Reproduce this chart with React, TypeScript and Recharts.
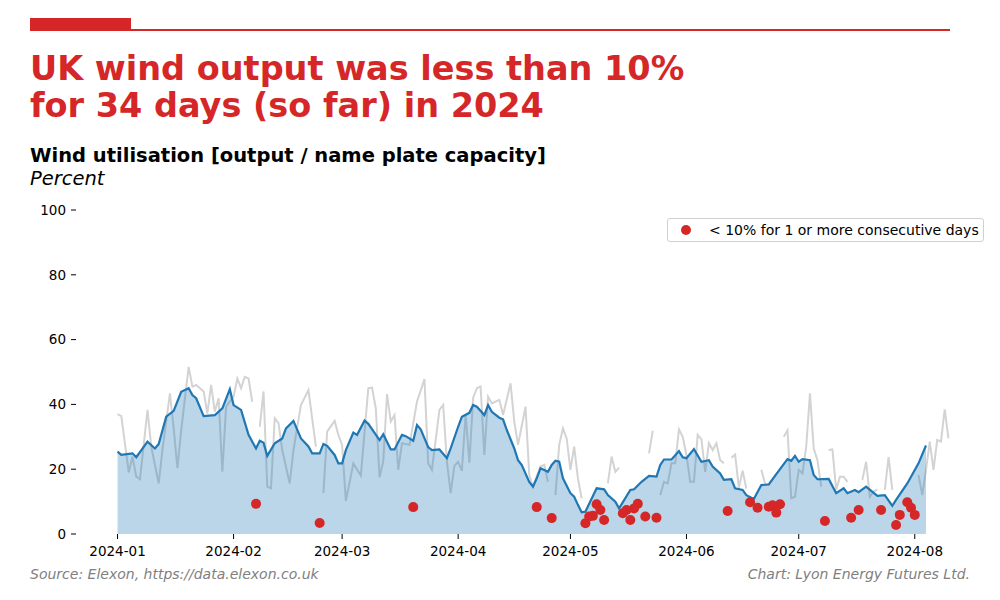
import React from "react";
import { ComposedChart, Area, Scatter, XAxis, YAxis, Legend } from "recharts";

const RED = "#d62728";
const BLUE = "#1f77b4";
const FONT = "'DejaVu Sans', sans-serif";

const monthTicks = [0, 31, 60, 91, 121, 152, 182, 213];
const monthLabels = ["2024-01", "2024-02", "2024-03", "2024-04", "2024-05", "2024-06", "2024-07", "2024-08"];
const percentTicks = [0, 20, 40, 60, 80, 100];

// [day since 2024-01-01, utilisation %]; null = gap in the daily series
const dailyUtilisation: [number, number | null][] = [
  [0, 37], [1, 36.4], [3, 19], [4, 23.9], [5, 17.7], [6, 16.9], [8, 38.3], [9, 27], [11, 15.6], [12, 26],
  [14, 43.4], [15, 32.6], [16, 20.3], [17, 32], [19, 51.6], [20, 45.5], [21, 46], [23, 44], [24, 37.2],
  [25, 46], [26, 37.8], [27, 41.9], [28, 19.2], [29, 39.3], [31, 42.4], [32, 48], [33, 45], [34, 48.5],
  [35, 48], [36, 40.8], [37, null],
  [38, 33.1], [39, 44], [40, 14.6], [41, 14.1], [42, 35.7], [43, 34.2], [44, 25.9], [46, 15.6], [47, 25.9],
  [49, 39.8], [51, 44.4], [53, 27], [54, null],
  [55, 12.6], [56, 31.6], [58, 34.9], [59, 30.6], [60, 27.5], [61, 10.2], [63, 21.8], [65, 18], [67, 45],
  [68, 45.2], [69, 38.8], [70, 17.5], [71, 22.5], [72, 43.2], [73, 34.7], [74, 36.7], [75, 19.8], [76, 28],
  [78, 27.5], [80, 40.8], [82, 47.8], [83, 21.8], [84, 19.8], [86, 38.3], [87, 39.8], [88, 22.3], [89, 12.6],
  [90, 21], [91, 22.3], [92, 19.5], [93, 37], [94, 22], [95, 42], [96, 45], [97, 45.5], [98, 24.4],
  [99, 42.4], [100, 40.3], [102, 41.4], [103, 36.7], [105, 46.5], [106, 34.7], [107, 27.5], [109, 39.3],
  [110, 18.2], [111, 14.6], [113, 20.8], [114, 21.3], [115, 16.1], [116, null],
  [117, 12], [118, 27.5], [119, 32.6], [120, 29.4], [121, 19.8], [122, 27], [123, 17.2], [124, 11], [125, null],
  [131, 15.6], [132, 23.9], [133, 19.2], [134, 20.5], [135, null],
  [142, 24.9], [143, 31.9], [144, null],
  [145, 12], [146, 16.1], [147, 15.6], [148, 21.8], [149, 21.8], [150, 32.3], [151, 30], [152, 24.4],
  [153, 16.1], [154, 16.1], [155, 30.6], [156, 29.2], [157, 19.2], [158, 28], [159, 25.9], [160, 28],
  [161, 22.8], [162, 21.8], [163, null],
  [164, 23.5], [165, 24.5], [166, 14.3], [167, 19.5], [168, 14], [169, null],
  [172, 19.8], [173, 15.6], [174, null],
  [178, 30], [179, 32], [180, 11], [181, 11.5], [182, 19.8], [183, 18.7], [184, 27], [185, 43.4],
  [186, 26.4], [187, 22.8], [188, 14.6], [189, null],
  [190, 25.9], [191, 26.1], [192, 13.6], [193, 17.7], [194, 17.7], [195, 16.1], [196, null],
  [199, 16.7], [200, 22.3], [201, 11.5], [202, 13.1], [203, 13.8], [204, null],
  [205, 13.6], [206, 23.7], [207, 13.6], [208, null],
  [214, 18.2], [215, 12], [216, 19.8], [217, 28.5], [218, 19.8], [219, 29], [220, 28.5], [221, 38.5], [222, 29.5],
];

// smoothed utilisation (blue line + fill)
const rollingAverage: [number, number][] = [
  [0, 25.4], [1, 24.4], [4, 24.9], [5, 23.7], [8, 28.5], [10, 26.4], [11, 27.8], [13, 36.2], [15, 38],
  [17, 43.9], [19, 45], [20, 42.9], [21, 41.9], [23, 36.4], [26, 36.7], [28, 38.8], [30, 44.7], [31, 39.8],
  [33, 38.3], [35, 30.6], [37, 26.4], [38, 28.8], [39, 28.2], [40, 24.1], [42, 28], [44, 29.5], [45, 32.6],
  [47, 34.9], [49, 29.5], [51, 27], [52, 24.9], [54, 24.9], [55, 27.8], [56, 27.2], [58, 24.4], [59, 21.8],
  [60, 21.8], [61, 25.9], [63, 31.3], [64, 30.6], [66, 35], [67, 34], [70, 29], [71, 30.8], [73, 26.1],
  [74, 26.1], [76, 30.6], [77, 30.2], [79, 28.8], [80, 33.6], [81, 32.3], [83, 26.8], [84, 25.9], [86, 26.1],
  [88, 23.4], [89, 26.4], [91, 33.1], [92, 36.2], [94, 37.4], [95, 39.8], [96, 39.3], [98, 36.7], [99, 39.8],
  [100, 37.7], [102, 35.9], [103, 35.4], [104, 32.1], [106, 26.4], [107, 22.8], [108, 21.3], [110, 16.1],
  [111, 14.6], [112, 17.2], [113, 20.3], [115, 19.2], [116, 21.3], [117, 22.6], [118, 22.3], [119, 17.2],
  [121, 12.6], [122, 11.5], [123, 9], [124, 6.7], [125, 6.9], [128, 14.1], [130, 13.8], [131, 12], [133, 10],
  [134, 7.9], [137, 13.6], [138, 13.8], [140, 16.1], [142, 17.9], [144, 17.7], [145, 21.3], [146, 23],
  [148, 23], [150, 25.6], [151, 23.7], [152, 23.4], [154, 26.2], [156, 22.3], [158, 22.8], [159, 20.8],
  [161, 18.7], [162, 16.7], [164, 16.9], [165, 14.1], [167, 13.6], [168, 12], [170, 10.8], [172, 15.1],
  [174, 15.3], [176, 18.5], [179, 23.1], [180, 22.6], [181, 24.1], [182, 22.3], [183, 23.1], [185, 22.8],
  [186, 18.2], [187, 16.9], [190, 17], [192, 12.6], [194, 14.1], [195, 12.6], [197, 13.6], [198, 12.9],
  [200, 14.6], [203, 11.8], [205, 12], [207, 8.7], [208, 10.5], [211, 15.6], [214, 21.8], [216, 27.3],
];

// days under 10%
const lowDays = [37, 54, 79, 112, 116, 125, 126, 127, 128, 129, 130, 135, 136, 137, 138, 139, 141, 144,
  163, 169, 171, 174, 175, 176, 177, 189, 196, 198, 204, 208, 209, 211, 212, 213];
const lowValues = [9.3, 3.4, 8.3, 8.3, 4.9, 3.3, 5.4, 5.6, 9.2, 7.4, 4.3, 6.4, 7.4, 4.3, 7.9, 9.3, 5.4, 5.0,
  7.1, 9.8, 8.1, 8.4, 8.9, 6.6, 9.2, 4.0, 5.0, 7.4, 7.4, 2.8, 5.9, 9.8, 8.1, 5.9];

const tickStyle = { fill: "#000", fontSize: 13.5, fontFamily: FONT };

function LegendBox() {
  return (
    <div
      style={{
        display: "flex",
        alignItems: "center",
        boxSizing: "border-box",
        height: 24,
        padding: "0 4px 0 12px",
        border: "1px solid #d0d0d0",
        borderRadius: 3,
        background: "rgba(255,255,255,0.8)",
        fontFamily: FONT,
        fontSize: 14,
        color: "#000",
        whiteSpace: "nowrap",
      }}
    >
      <svg width={12} height={12} style={{ marginRight: 17 }}>
        <circle cx={6} cy={6} r={5} fill={RED} />
      </svg>
      {"< 10% for 1 or more consecutive days"}
    </div>
  );
}

export default function App() {
  const grey = dailyUtilisation.map(([day, v]) => ({ day, v }));
  const smooth = rollingAverage.map(([day, v]) => ({ day, v }));
  const dots = lowDays.map((day, i) => ({ day, v: lowValues[i] }));

  return (
    <div style={{ position: "absolute", left: 0, top: 0, width: 1000, height: 600, background: "#fff", fontFamily: FONT }}>
      <div style={{ position: "absolute", left: 0, top: 0 }}>
        <ComposedChart width={1000} height={600} margin={{ top: 210, right: 10, bottom: 36, left: 0 }}>
          <XAxis
            type="number"
            dataKey="day"
            domain={[-11.1, 233.1]}
            allowDataOverflow
            ticks={monthTicks}
            interval={0}
            tickFormatter={(d) => monthLabels[monthTicks.indexOf(d)]}
            axisLine={false}
            tickLine={{ stroke: "#000" }}
            tickSize={5}
            tickMargin={7}
            height={30}
            tick={tickStyle}
          />
          <YAxis
            dataKey="v"
            domain={[0, 100]}
            allowDataOverflow
            ticks={percentTicks}
            interval={0}
            axisLine={false}
            tickLine={{ stroke: "#000" }}
            tickSize={5}
            tickMargin={5}
            width={76}
            tick={tickStyle}
          />
          {/* daily values, drawn beneath the translucent fill */}
          <Area
            data={grey}
            dataKey="v"
            type="linear"
            stroke="#d3d3d3"
            strokeWidth={2}
            fill="none"
            dot={false}
            activeDot={false}
            isAnimationActive={false}
          />
          <Area
            data={smooth}
            dataKey="v"
            type="linear"
            stroke={BLUE}
            strokeWidth={2.2}
            fill={BLUE}
            fillOpacity={0.3}
            dot={false}
            activeDot={false}
            isAnimationActive={false}
          />
          <Scatter
            data={dots}
            dataKey="v"
            fill={RED}
            isAnimationActive={false}
            shape={(p: any) => <circle cx={p.cx} cy={p.cy} r={5} fill={RED} />}
          />
          <Legend
            layout="horizontal"
            verticalAlign="middle"
            align="center"
            content={() => <LegendBox />}
            wrapperStyle={{ position: "absolute", left: 667, top: 218, width: "auto", height: "auto" }}
          />
        </ComposedChart>
      </div>

      <div style={{ position: "absolute", left: 30, top: 18, width: 101, height: 12, background: RED }} />
      <div style={{ position: "absolute", left: 30, top: 29, width: 920, height: 1.5, background: RED }} />

      <div style={{ position: "absolute", left: 30, top: 50, fontSize: 33.5, lineHeight: "37px", fontWeight: "bold", color: RED, whiteSpace: "nowrap" }}>
        UK wind output was less than 10%
        <br />
        for 34 days (so far) in 2024
      </div>
      <div style={{ position: "absolute", left: 30, top: 145, fontSize: 19.5, lineHeight: "22px", fontWeight: "bold", color: "#000", whiteSpace: "nowrap" }}>
        Wind utilisation [output / name plate capacity]
      </div>
      <div style={{ position: "absolute", left: 30, top: 168, fontSize: 19.5, lineHeight: "22px", fontStyle: "italic", color: "#000" }}>
        Percent
      </div>

      <div style={{ position: "absolute", left: 30, top: 566, fontSize: 14, lineHeight: "16px", fontStyle: "italic", color: "#808080", whiteSpace: "nowrap" }}>
        Source: Elexon, https://data.elexon.co.uk
      </div>
      <div style={{ position: "absolute", right: 30, top: 566, fontSize: 14, lineHeight: "16px", fontStyle: "italic", color: "#808080", whiteSpace: "nowrap" }}>
        Chart: Lyon Energy Futures Ltd.
      </div>
    </div>
  );
}
